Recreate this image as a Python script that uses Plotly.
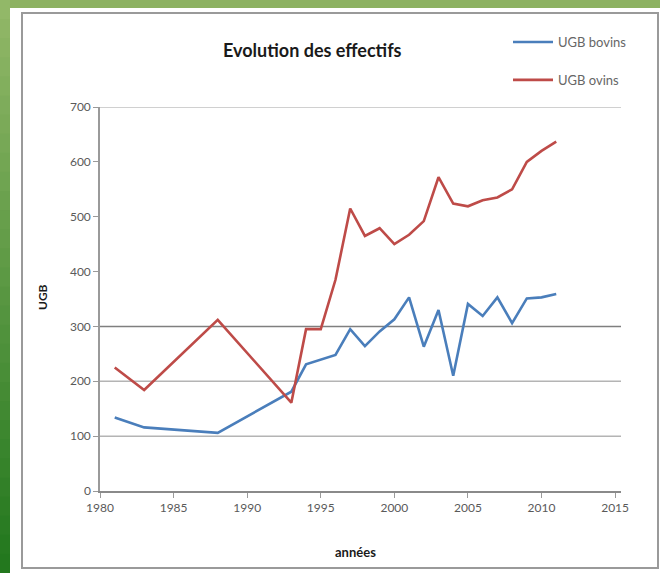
import plotly.graph_objects as go

# ---- data ----
years = [1981, 1983, 1988, 1993, 1994, 1995, 1996, 1997, 1998, 1999, 2000,
         2001, 2002, 2003, 2004, 2005, 2006, 2007, 2008, 2009, 2010, 2011]
ugb_bovins = [134, 116, 106, 181, 231, 239, 248, 295, 264, 291, 313,
              353, 263, 330, 210, 341, 319, 353, 306, 351, 353, 359]
ugb_ovins = [225, 184, 312, 161, 295, 295, 385, 515, 465, 479, 450,
             467, 492, 572, 524, 519, 530, 535, 550, 600, 620, 637]
series_names = ["UGB bovins", "UGB ovins"]
x_ticks = [1980, 1985, 1990, 1995, 2000, 2005, 2010, 2015]
y_ticks = [0, 100, 200, 300, 400, 500, 600, 700]
grid_levels = [100, 200, 300, 700]
grid_colors = ["#b4b4b4", "#b4b4b4", "#7f7f7f", "#c0c0c0"]

W, H = 660, 573
L, R, T, B = 100, 39, 107, 82
pw, ph = W - L - R, H - T - B


def px(x):
    return (x - L) / pw


def py(y):
    return (H - B - y) / ph


fig = go.Figure()
fig.add_trace(go.Scatter(x=years, y=ugb_bovins, mode="lines", name=series_names[0],
                         legendgroup="a",
                         line=dict(color="#4a7ebb", width=2.6)))
fig.add_trace(go.Scatter(x=years, y=ugb_ovins, mode="lines", name=series_names[1],
                         legendgroup="b",
                         line=dict(color="#be4b48", width=2.6)))

shapes = []
# green frame: top strip and left gradient strip
shapes.append(dict(type="rect", xref="paper", yref="paper", x0=px(0), x1=px(W),
                   y0=py(8), y1=py(0), fillcolor="#8db262", line_width=0, layer="below"))
n = 30
c0 = (146, 184, 104)
c1 = (35, 120, 30)
for i in range(n):
    t = i / (n - 1)
    col = "rgb(%d,%d,%d)" % tuple(int(c0[k] + (c1[k] - c0[k]) * t) for k in range(3))
    y_top = H * i / n
    y_bot = H * (i + 1) / n + 1
    shapes.append(dict(type="rect", xref="paper", yref="paper", x0=px(0), x1=px(10),
                       y0=py(y_bot), y1=py(y_top), fillcolor=col, line_width=0,
                       layer="below"))
# chart border
shapes.append(dict(type="rect", xref="paper", yref="paper", x0=px(22), x1=px(658),
                   y0=py(568), y1=py(13), fillcolor="rgba(0,0,0,0)",
                   line=dict(color="#9a9a9a", width=2), layer="below"))
# horizontal gridlines
for g, c in zip(grid_levels, grid_colors):
    shapes.append(dict(type="line", xref="paper", yref="y", x0=0, x1=1, y0=g, y1=g,
                       line=dict(color=c, width=1.5), layer="below"))

fig.update_layout(
    width=W, height=H,
    margin=dict(l=L, r=R, t=T, b=B),
    paper_bgcolor="white", plot_bgcolor="white",
    font=dict(family="Lato, Open Sans, sans-serif", color="#595959", size=12),
    shapes=shapes,
    showlegend=True,
    legend=dict(x=px(508), y=py(27), xanchor="left", yanchor="top",
                bgcolor="rgba(0,0,0,0)", font=dict(size=13, color="#666666"),
                tracegroupgap=18, itemwidth=40),
    annotations=[
        dict(text="<b>Evolution des effectifs</b>", xref="paper", yref="paper",
             x=px(312), y=py(50), xanchor="center", yanchor="middle", showarrow=False,
             font=dict(size=18, color="#1a1a1a", family="Lato, sans-serif")),
        dict(text="<b>UGB</b>", xref="paper", yref="paper", x=px(42), y=py(297),
             xanchor="center", yanchor="middle",
             textangle=-90, showarrow=False,
             font=dict(size=12, color="#1a1a1a", family="Lato, sans-serif")),
        dict(text="<b>années</b>", xref="paper", yref="paper", x=px(355), y=py(552),
             xanchor="center", yanchor="middle",
             showarrow=False,
             font=dict(size=13, color="#1a1a1a", family="Lato, sans-serif")),
    ],
)
fig.update_xaxes(range=[1980, 2015.4], tickvals=x_ticks, showgrid=False, zeroline=False,
                 showline=True, linecolor="#8a8a8a", linewidth=1.5,
                 ticks="outside", ticklen=5, tickcolor="#9a9a9a",
                 tickfont=dict(size=12, color="#5a5a5a"))
fig.update_yaxes(range=[0, 700], tickvals=y_ticks, showgrid=False, zeroline=False,
                 showline=True, linecolor="#9a9a9a", linewidth=1.5,
                 ticks="outside", ticklen=5, tickcolor="#9a9a9a",
                 tickfont=dict(size=12, color="#5a5a5a"))

fig.write_html("out.html", config={"displayModeBar": False},
               post_script="document.body.style.margin='0';document.body.style.overflow='hidden';")
